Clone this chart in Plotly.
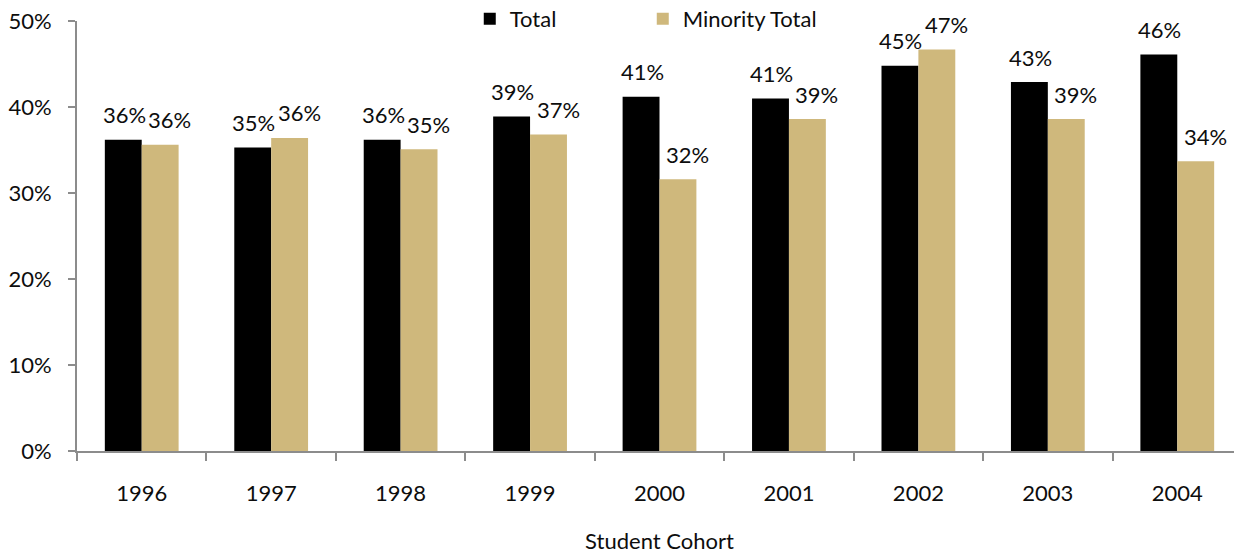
import plotly.graph_objects as go

cohorts = ["1996", "1997", "1998", "1999", "2000", "2001", "2002", "2003", "2004"]
total = [36.2, 35.3, 36.2, 38.9, 41.2, 41.0, 44.8, 42.9, 46.1]
minority_total = [35.6, 36.4, 35.1, 36.8, 31.6, 38.6, 46.7, 38.6, 33.7]
y_ticks = [0, 10, 20, 30, 40, 50]
y_tick_labels = ["0%", "10%", "20%", "30%", "40%", "50%"]

FONT = "Lato"
BLACK = "#000000"
GOLD = "#CFB87C"
AXIS = "#8C8C8C"
TXT = "#0D0D0D"
FS = 22

fig = go.Figure()
fig.add_trace(go.Bar(name="Total", x=cohorts, y=total, marker=dict(color=BLACK, line=dict(width=0))))
fig.add_trace(go.Bar(name="Minority Total", x=cohorts, y=minority_total, marker=dict(color=GOLD, line=dict(width=0))))

annotations = []
for series, xs in ((total, -17.5), (minority_total, 28)):
    for i, v in enumerate(series):
        annotations.append(dict(x=i, y=v, xref="x", yref="y", text=f"{int(v + 0.5)}%",
                                showarrow=False, xshift=xs, yshift=25, yanchor="middle",
                                font=dict(family=FONT, size=FS, color=TXT)))

fig.update_layout(
    width=1234, height=546,
    margin=dict(l=69, r=0, t=13, b=103, autoexpand=False),
    paper_bgcolor="white", plot_bgcolor="white",
    barmode="group", bargap=0.43, bargroupgap=0,
    font=dict(family=FONT, size=FS, color=TXT),
    showlegend=True,
    legend=dict(orientation="h", xref="container", x=0.3742, xanchor="left",
                yref="container", y=1 - 11/546, yanchor="middle",
                font=dict(family=FONT, size=FS, color=TXT),
                entrywidth=128, entrywidthmode="pixels", itemwidth=30,
                bgcolor="rgba(0,0,0,0)", traceorder="normal"),
    annotations=annotations,
    xaxis=dict(type="category", range=[-0.5, len(cohorts) - 0.5], showline=True, linecolor=AXIS,
               linewidth=2, ticks="outside",
               tickson="boundaries", ticklen=8, tickwidth=2, tickcolor=AXIS, showgrid=False,
               ticklabelstandoff=22, automargin=False,
               title=dict(text="Student Cohort", standoff=31, font=dict(family=FONT, size=FS, color=TXT)),
               tickfont=dict(family=FONT, size=FS, color=TXT)),
    yaxis=dict(range=[0, 50], tickvals=y_ticks, ticktext=y_tick_labels, showline=True,
               linecolor=AXIS, linewidth=2, ticks="outside", ticklen=7, tickwidth=2, tickcolor=AXIS,
               showgrid=False, zeroline=False, ticklabelstandoff=12, automargin=False,
               ticklabeloverflow="allow",
               tickfont=dict(family=FONT, size=FS, color=TXT)),
)

fig.write_html("out.html")
